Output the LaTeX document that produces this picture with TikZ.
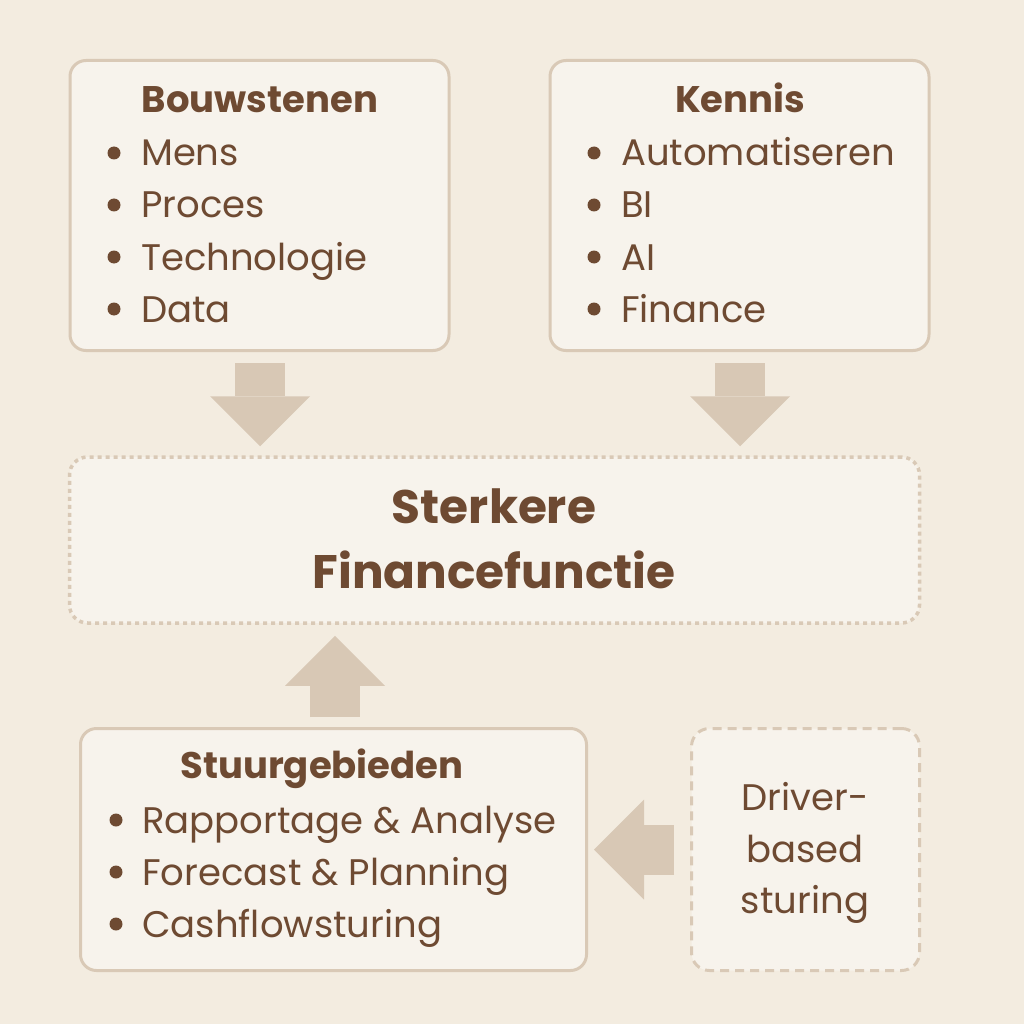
\documentclass[tikz,border=0pt]{standalone}
\usepackage{fontspec}
\setmainfont{Poppins}
\usetikzlibrary{arrows.meta,calc}
\definecolor{bg}{HTML}{F3ECE0}
\definecolor{boxfill}{HTML}{F7F3EC}
\definecolor{edge}{HTML}{D9C9B6}
\definecolor{ink}{HTML}{6E4A32}
\definecolor{arrowc}{HTML}{D8C8B5}
\begin{document}
\begin{tikzpicture}[x=1pt,y=-1pt,
  card/.style={draw=edge, line width=3pt, fill=boxfill, rounded corners=16pt, inner sep=0pt},
  dotcard/.style={draw=edge, line width=3.5pt, fill=boxfill, rounded corners=18pt, inner sep=0pt, dash pattern=on 4pt off 4pt},
  dashcard/.style={draw=edge, line width=3pt, fill=boxfill, rounded corners=18pt, inner sep=0pt, dash pattern=on 9pt off 6pt},
  hdr/.style={anchor=base, text=ink, inner sep=0pt, font=\fontsize{37}{52}\selectfont\bfseries},
  big/.style={anchor=base, text=ink, inner sep=0pt, font=\fontsize{47}{65}\selectfont\bfseries},
  itm/.style={anchor=base west, text=ink, inner sep=0pt, font=\fontsize{37}{52}\selectfont},
  ctr/.style={anchor=base, text=ink, inner sep=0pt, font=\fontsize{37}{52}\selectfont},
  dot/.style={fill=ink},
  blk/.style={draw=arrowc, line width=50pt, line cap=butt, -{Triangle[length=50pt,width=100pt,line width=0pt]}}
]
\useasboundingbox (0,0) rectangle (1024,1024);
\fill[bg] (0,0) rectangle (1024,1024);

% boxes
\node[card, minimum width=379pt, minimum height=290pt] (b1) at (259.5,205.5) {};
\node[card, minimum width=379pt, minimum height=290pt] (b2) at (739.5,205.5) {};
\node[dotcard, minimum width=850pt, minimum height=166pt] (mid) at (494.5,540) {};
\node[card, minimum width=506pt, minimum height=242pt] (b3) at (333.5,849.5) {};
\node[dashcard, minimum width=228pt, minimum height=242pt] (b4) at (805.5,849.5) {};

% Bouwstenen
\node[hdr] (t1) at (260,113) {Bouwstenen};
\foreach \y/\t [count=\i] in {166/Mens,218/Proces,270/Technologie,322/Data}{
  \node[itm] (b1i\i) at (141,\y) {\t};
  \fill[dot] ($(b1i\i.base west)+(-27,-13)$) circle (6.5pt);
}
% Kennis
\node[hdr] (t2) at (740,113) {Kennis};
\foreach \y/\t [count=\i] in {166/Automatiseren,218/BI,270/AI,322/Finance}{
  \node[itm] (b2i\i) at (621,\y) {\t};
  \fill[dot] ($(b2i\i.base west)+(-27,-13)$) circle (6.5pt);
}
% centre
\node[big] (m1) at (494,523) {Sterkere};
\node[big] (m2) at (494,588) {Financefunctie};
% Stuurgebieden
\node[hdr] (t3) at (322,778) {Stuurgebieden};
\foreach \y/\t [count=\i] in {833/Rapportage \& Analyse,885/Forecast \& Planning,937/Cashflowsturing}{
  \node[itm] (b3i\i) at (142,\y) {\t};
  \fill[dot] ($(b3i\i.base west)+(-26,-13)$) circle (6.5pt);
}
% Driver-based
\node[ctr] (d1) at (805,810) {Driver-};
\node[ctr] (d2) at (805,862) {based};
\node[ctr] (d3) at (805,913) {sturing};

% arrows
\coordinate (a1s) at ($(b1.south)+(0.5,11)$);
\coordinate (a1e) at ($(mid.north)+(-234,-9)$);
\draw[blk] (a1s) -- (a1s |- a1e);
\coordinate (a2s) at ($(b2.south)+(0.5,11)$);
\draw[blk] (a2s) -- (a2s |- a1e);
\coordinate (a3s) at ($(b3.north)+(1.5,-10)$);
\coordinate (a3e) at ($(mid.south)+(0,11)$);
\draw[blk] (a3s) -- (a3s |- a3e);
\coordinate (a4s) at ($(b4.west)+(-16,0)$);
\coordinate (a4e) at ($(b3.east)+(6,0)$);
\draw[blk] (a4s) -- (a4e |- a4s);
\end{tikzpicture}
\end{document}
